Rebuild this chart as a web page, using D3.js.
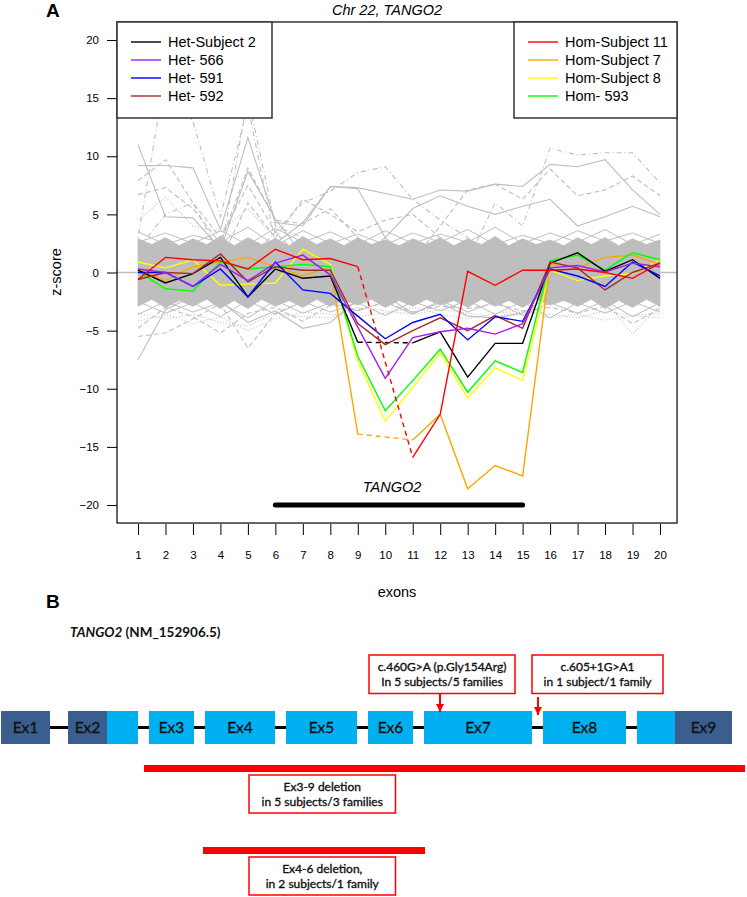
<!DOCTYPE html>
<html><head><meta charset="utf-8">
<script src="https://cdn.jsdelivr.net/npm/d3@7"></script>
<style>body{margin:0;background:#fff}svg{display:block}</style>
</head><body>
<svg id="chart" width="747" height="897"></svg>
<script>
// ---------------- DATA (panel A) ----------------
const exonNumbers = [1,2,3,4,5,6,7,8,9,10,11,12,13,14,15,16,17,18,19,20];
const yTickValues = [-20,-15,-10,-5,0,5,10,15,20];

const hetSubject2 = [0.2,-0.9,-0.1,1.3,-2.1,0.3,-0.5,-0.3,-6.0,null,-6.05,-5.1,-9.0,-6.1,-6.1,0.8,1.7,0.1,1.1,-0.5];
const het566      = [0.3,0.0,-1.2,0.7,-0.7,0.8,1.5,-0.2,-4.7,-9.1,-5.6,-5.1,-4.8,-5.3,-4.4,0.4,0.6,0.05,0.8,0.5];
const het591      = [0.0,0.0,-1.2,0.3,-2.1,0.9,-1.5,-1.8,-3.75,-5.7,-4.3,-3.6,-5.8,-3.8,-4.2,0.3,-0.3,-1.2,0.9,-0.3];
const het592      = [-0.6,0.0,-0.1,1.6,-0.8,0.5,0.2,0.2,-4.4,-6.2,-5.0,-3.9,-5.0,-3.7,-4.8,0.9,0.4,-1.5,0.0,0.8];
const homSubject11= [-0.6,1.3,1.1,1.0,0.3,2.0,1.1,1.2,0.5,null,-15.9,-12.2,0.1,-1.1,0.2,0.2,0.3,0.0,-0.5,0.8];
const homSubject7 = [0.3,-0.7,0.5,0.9,1.3,0.5,-0.3,0.5,-13.9,null,-14.4,-12.2,-18.6,-16.6,-17.5,0.7,0.4,1.3,1.5,0.7];
const homSubject8 = [0.9,0.4,1.1,-1.1,-1.0,-0.9,2.0,0.7,-7.6,-12.8,-9.9,-6.9,-10.8,-8.2,-9.3,0.2,-0.7,-0.3,-0.1,1.1];
const hom593      = [0.1,-1.4,-1.6,0.9,0.3,0.5,0.7,0.5,-7.2,-11.9,-9.3,-6.6,-10.3,-7.6,-8.6,1.0,1.5,0.2,1.7,1.1];

const seriesLabels = ["Het-Subject 2","Het- 566","Het- 591","Het- 592","Hom-Subject 11","Hom-Subject 7","Hom-Subject 8","Hom- 593"];
const seriesValues = [hetSubject2, het566, het591, het592, homSubject11, homSubject7, homSubject8, hom593];
const seriesColors = ["#000000","#A020F0","#0000FF","#A52A2A","#FF0000","#FFA500","#FFFF00","#00FF00"];
const drawOrder = [6,5,7,0,3,2,1,4];

// dense grey band of control samples (envelope)
const bandHighAtExon  = [2.9,3.0,2.9,3.1,3.0,2.9,3.1,2.9,3.0,2.8,2.9,3.0,2.9,3.1,2.9,2.8,3.0,3.0,2.9,2.8];
const bandHighBetween = [2.4,2.3,2.4,2.3,2.4,2.3,2.4,2.3,2.4,2.3,2.4,2.3,2.4,2.3,2.4,2.3,2.4,2.3,2.4];
const bandLowAtExon   = [-2.9,-3.0,-2.9,-3.1,-3.1,-2.9,-3.0,-2.9,-2.8,-3.0,-2.9,-2.8,-3.0,-2.9,-3.0,-2.8,-2.9,-3.1,-3.0,-2.9];
const bandLowBetween  = [-2.3,-2.4,-2.3,-2.4,-2.3,-2.4,-2.3,-2.4,-2.3,-2.4,-2.3,-2.4,-2.3,-2.4,-2.3,-2.4,-2.3,-2.4,-2.3];

// grey control lines hugging the band edge
const greyEdgeLines = [
  [3.5,2.4,3.2,2.6,3.9,2.3,3.6,2.5,3.3,2.4,3.4,2.6,3.7,2.4,3.2,2.5,3.6,2.7,3.4,2.5],
  [2.6,3.4,2.5,3.6,2.4,3.8,2.6,3.5,2.4,3.6,2.5,3.3,2.6,3.9,2.5,3.4,2.6,3.7,2.4,3.3],
  [-3.6,-2.5,-3.4,-2.6,-3.9,-2.4,-3.5,-2.6,-3.3,-2.5,-3.6,-2.4,-3.4,-2.5,-3.7,-2.6,-3.5,-2.4,-3.8,-2.6],
  [-2.5,-3.5,-2.6,-3.8,-2.4,-3.6,-2.5,-3.4,-2.6,-3.7,-2.5,-3.3,-2.4,-3.6,-2.5,-3.9,-2.6,-3.5,-2.5,-3.4]
];

// outlying grey control lines
const greyOutliers = [
  [11.0,4.8,4.7,2.0,8.7,4.6,1.5,1,1,1,1,1,1,1,1,1,1,1,1,1],
  [9.2,9.2,9.0,3.7,11.6,4.3,4.0,7.4,7.2,3.0,1,1,1,1,1,1,1,1,1,1],
  [3.0,17.0,13.0,4.8,14.4,2.5,1,1,1,1,1,1,1,1,1,1,1,1,1,1],
  [2.0,5.0,6.0,1.5,15.2,4.0,3.0,1,1,1,1,1,1,1,1,1,1,1,1,1],
  [7.9,9.7,6.0,3.0,7.5,3.5,1,1,1,1,1,1,1,1,1,1,1,1,1,1],
  [6.7,7.3,5.5,2.5,9.0,4.5,4.2,5.5,3.0,1,1,1,1,1,1,1,1,1,1,1],
  [1,1,1,1,1,3.5,6.0,7.0,8.6,9.1,6.3,4.5,3.0,1,1,1,1,1,1,1],
  [1,1,1,1,1,2.5,4.3,7.4,7.3,6.8,6.3,7.1,7.0,7.6,7.4,9.3,9.1,9.7,7.1,5.0],
  [1,1,1,1,1,1,1,1,1,1,1,1,1,6.0,4.0,10.7,10.1,10.3,10.3,7.7],
  [1,1,1,1,1,1,1,1,1,3.0,5.5,6.6,5.7,5.0,5.7,6.3,4.0,4.8,5.7,4.8],
  [1,1,1,1,1,1,1,1,1,1,1,4.0,7.1,7.6,6.3,8.9,6.6,7.1,8.3,6.6],
  [1,1,1,1,6.0,3.0,6.3,5.0,3.5,4.5,5.0,3.0,1,1,1,1,1,1,1,1],
  [4.5,6.5,4.0,3.5,5.5,3.0,1,1,1,1,1,1,1,1,1,1,1,1,1,1],
  [-7.5,-3.2,-2,-1,-1,-1,-1,-1,-1,-1,-1,-1,-1,-1,-1,-1,-1,-1,-1,-1],
  [-5.5,-5.2,-4.0,-2.7,-6.5,-3.5,-2.5,-1,-1,-1,-1,-1,-1,-1,-1,-1,-1,-1,-1,-1],
  [-1,-1,-1,-2.5,-4.3,-3.3,-4.8,-4.3,-2.3,-1,-1,-1,-1,-1,-1,-1,-1,-1,-1,-1],
  [-1,-1,-1,-1,-1,-1,-1,-1,-1,-1,-1,-1,-1,-1,-1,-1,-1,-2.5,-5.3,-2.8],
  [-1,-1,-1,-1,-1,-1,-1,-1,-1,-2.0,-3.5,-2.6,-3.75,-3.9,-3.5,-2.0,-1,-1,-1,-1],
  [-3.5,-4.0,-3.6,-4.3,-4.6,-3.5,-3.8,-3.9,-3.0,-3.3,-3.6,-3.2,-3.5,-3.8,-3.4,-3.6,-3.9,-3.3,-3.7,-3.9],
  [-4.2,-3.6,-4.4,-3.8,-5.0,-4.0,-3.4,-3.6,-3.8,-3.5,-3.0,-3.6,-4.0,-3.5,-3.3,-3.9,-3.6,-4.1,-3.7,-3.5],
  [-4.8,-3.0,-3.8,-5.2,-3.5,-3.0,-4.2,-2.8,-3.2,-2.6,-3.4,-2.9,-3.1,-2.7,-3.3,-3.0,-3.5,-2.9,-4.4,-3.1]
];
const greyOutlierDash = ["","","1,3,5,3","1,3,5,3","5,3","5,3","1,3,5,3","","1,3,5,3","","5,3","5,3","1,2",
                         "","5,3","","1,2","","1,2","1,2","5,3"];

const geneStart = 6, geneEnd = 15, geneLevel = -20;

// ---------------- DATA (panel B) ----------------
const geneExonLabels = ["Ex1","Ex2","Ex3","Ex4","Ex5","Ex6","Ex7","Ex8","Ex9"];
const geneExonStart  = [1,68,149,205,286,368,424,543,637];
const geneExonEnd    = [50,138,194,275,357,413,532,626,732];
const codingRange    = [107,675];
const variantText    = [["c.460G>A (p.Gly154Arg)","In 5 subjects/5 families"],["c.605+1G>A1","in 1 subject/1 family"]];
const variantSite    = [440,538];
const variantBoxSpan = [[369,515],[532,663]];
const deletionText   = [["Ex3-9 deletion","in 5 subjects/3 families"],["Ex4-6 deletion,","in 2 subjects/1 family"]];
const deletionSpan   = [[144,745],[203,425]];
const deletionBoxSpan= [[249,395.5],[249,395.5]];

// ---------------- DRAW ----------------
const svg = d3.select("#chart");
const FONT = "Liberation Sans, Arial, sans-serif";
const CAL = "Lato, 'Open Sans', sans-serif";

const x = d3.scaleLinear().domain([1,20]).range([138,660]);
const y = d3.scaleLinear().domain([-20,20]).range([505,40]);
const boxL = x(0.236), boxR = x(20.62), boxT = y(21.55), boxB = y(-21.55);

svg.append("clipPath").attr("id","plotclip").append("rect")
  .attr("x",boxL).attr("y",boxT).attr("width",boxR-boxL).attr("height",boxB-boxT);
const plot = svg.append("g").attr("clip-path","url(#plotclip)");

const lineGen = d3.line().defined(d=>d[1]!=null).x(d=>x(d[0])).y(d=>y(d[1]));
const grey = "#BEBEBE";

greyOutliers.forEach((vals,i)=>{
  plot.append("path").datum(vals.map((v,j)=>[exonNumbers[j],v]))
    .attr("d",lineGen).attr("fill","none").attr("stroke",grey).attr("stroke-width",1.1)
    .attr("stroke-dasharray",greyOutlierDash[i]||null);
});
greyEdgeLines.forEach(vals=>{
  plot.append("path").datum(vals.map((v,j)=>[exonNumbers[j],v]))
    .attr("d",lineGen).attr("fill","none").attr("stroke",grey).attr("stroke-width",1);
});

// band
const bandPts = [];
exonNumbers.forEach((e,i)=>{
  bandPts.push({e:e, hi:bandHighAtExon[i], lo:bandLowAtExon[i]});
  if(i<exonNumbers.length-1) bandPts.push({e:(e+exonNumbers[i+1])/2, hi:bandHighBetween[i], lo:bandLowBetween[i]});
});
plot.append("path").datum(bandPts)
  .attr("d", d3.area().x(d=>x(d.e)).y0(d=>y(d.lo)).y1(d=>y(d.hi)))
  .attr("fill",grey).attr("stroke",grey).attr("stroke-width",0.8);

// zero line
plot.append("line").attr("x1",boxL).attr("x2",boxR).attr("y1",y(0)).attr("y2",y(0))
  .attr("stroke",grey).attr("stroke-width",1.3);

// colored series
drawOrder.forEach(si=>{
  const vals = seriesValues[si];
  const pts = vals.map((v,j)=>[exonNumbers[j],v]);
  plot.append("path").datum(pts).attr("d",lineGen).attr("fill","none")
    .attr("stroke",seriesColors[si]).attr("stroke-width",1.4);
  for(let j=0;j<vals.length;j++){
    if(vals[j]==null){
      let a=j-1; while(a>=0 && vals[a]==null) a--;
      let b=j+1; while(b<vals.length && vals[b]==null) b++;
      if(a>=0 && b<vals.length){
        plot.append("line").attr("x1",x(exonNumbers[a])).attr("y1",y(vals[a]))
          .attr("x2",x(exonNumbers[b])).attr("y2",y(vals[b]))
          .attr("stroke",seriesColors[si]).attr("stroke-width",1.4).attr("stroke-dasharray","5,4");
      }
      j=b-1;
    }
  }
});

// gene bar
plot.append("line").attr("x1",x(geneStart)).attr("x2",x(geneEnd)).attr("y1",y(geneLevel)).attr("y2",y(geneLevel))
  .attr("stroke","#000").attr("stroke-width",5).attr("stroke-linecap","round");
svg.append("text").attr("x",(x(geneStart)+x(geneEnd))/2-7).attr("y",492)
  .attr("text-anchor","middle").attr("font-family",FONT).attr("font-style","italic").attr("font-size",14.5)
  .text("TANGO2");

// box
svg.append("rect").attr("x",boxL).attr("y",boxT).attr("width",boxR-boxL).attr("height",boxB-boxT)
  .attr("fill","none").attr("stroke","#000").attr("stroke-width",1.2);

// axes
const yAxis = svg.append("g").attr("transform",`translate(${boxL},0)`)
  .call(d3.axisLeft(y).tickValues(yTickValues).tickSize(10).tickPadding(8));
yAxis.select(".domain").remove();
yAxis.selectAll("text").attr("font-family",FONT).attr("font-size",11.5).attr("fill","#000");
yAxis.selectAll("line").attr("stroke","#000");

const xAxis = svg.append("g").attr("transform",`translate(0,${boxB+1})`)
  .call(d3.axisBottom(x).tickValues(exonNumbers).tickSize(11).tickPadding(16));
xAxis.select(".domain").remove();
xAxis.selectAll("text").attr("font-family",FONT).attr("font-size",11.5).attr("fill","#000");
xAxis.selectAll("line").attr("stroke","#000");

// labels
svg.append("text").attr("transform","translate(61,272) rotate(-90)").attr("text-anchor","middle")
  .attr("font-family",FONT).attr("font-size",14.5).text("z-score");
svg.append("text").attr("x",397).attr("y",597).attr("text-anchor","middle")
  .attr("font-family",FONT).attr("font-size",14.5).text("exons");
svg.append("text").attr("x",387).attr("y",15).attr("text-anchor","middle")
  .attr("font-family",FONT).attr("font-style","italic").attr("font-size",14.5).text("Chr 22, TANGO2");
svg.append("text").attr("x",46).attr("y",17).attr("font-family",FONT).attr("font-weight","bold")
  .attr("font-size",19).text("A");

// legends
function legend(x0,x1,idx,lineX0){
  svg.append("rect").attr("x",x0).attr("y",boxT).attr("width",x1-x0).attr("height",118-boxT)
    .attr("fill","#fff").attr("stroke","#333").attr("stroke-width",1.5);
  idx.forEach((si,k)=>{
    const cy = 42 + k*18;
    svg.append("line").attr("x1",lineX0).attr("x2",lineX0+30).attr("y1",cy).attr("y2",cy)
      .attr("stroke",seriesColors[si]).attr("stroke-width",1.4);
    svg.append("text").attr("x",lineX0+37).attr("y",cy+5).attr("font-family",FONT).attr("font-size",14.5)
      .text(seriesLabels[si]);
  });
}
legend(boxL,272,[0,1,2,3],131);
legend(514,boxR,[4,5,6,7],528);

// ---------------- PANEL B ----------------
const gx = d3.scaleLinear().domain([0,747]).range([0,747]);
function heavy(sel,col){ return sel.attr("fill",col).attr("stroke",col).attr("stroke-width",0.35); }
svg.append("text").attr("x",46).attr("y",608).attr("font-family",FONT).attr("font-weight","bold")
  .attr("font-size",19).text("B");
const tt = svg.append("text").attr("x",70).attr("y",637).attr("font-family",CAL).attr("font-weight","bold")
  .attr("font-size",13.5).attr("fill","#111");
tt.append("tspan").attr("font-style","italic").text("TANGO2");
tt.append("tspan").text(" (NM_152906.5)");

const exTop = 711, exH = 33, exMid = exTop+exH/2;
svg.append("line").attr("x1",gx(geneExonEnd[0])).attr("x2",gx(geneExonStart[8])).attr("y1",exMid).attr("y2",exMid)
  .attr("stroke","#000").attr("stroke-width",3);
geneExonLabels.forEach((lab,i)=>{
  const s=geneExonStart[i], e=geneExonEnd[i];
  svg.append("rect").attr("x",gx(s)).attr("y",exTop).attr("width",gx(e)-gx(s)).attr("height",exH).attr("fill","#00B0F0");
  if(s<codingRange[0]) svg.append("rect").attr("x",gx(s)).attr("y",exTop).attr("width",gx(Math.min(e,codingRange[0]))-gx(s)).attr("height",exH).attr("fill","#3A5F8E");
  if(e>codingRange[1]) svg.append("rect").attr("x",gx(Math.max(s,codingRange[1]))).attr("y",exTop).attr("width",gx(e)-gx(Math.max(s,codingRange[1]))).attr("height",exH).attr("fill","#3A5F8E");
  let cx;
  if(s<codingRange[0]) cx=(s+Math.min(e,codingRange[0]))/2;
  else if(e>codingRange[1]) cx=(Math.max(s,codingRange[1])+e)/2;
  else cx=(s+e)/2;
  heavy(svg.append("text").attr("x",gx(cx)).attr("y",exMid+5.5).attr("text-anchor","middle")
    .attr("font-family",CAL).attr("font-size",15.5),"#111").text(lab);
});

function callout(x0,x1,y0,y1,lines){
  svg.append("rect").attr("x",x0).attr("y",y0).attr("width",x1-x0).attr("height",y1-y0)
    .attr("fill","#fff").attr("stroke","#FF0000").attr("stroke-width",1.5);
  lines.forEach((t,k)=>{
    heavy(svg.append("text").attr("x",(x0+x1)/2).attr("y",y0+16+k*15).attr("text-anchor","middle")
      .attr("font-family",CAL).attr("font-size",12),"#111").text(t);
  });
}
svg.append("defs").append("marker").attr("id","arr").attr("viewBox","0 0 10 10").attr("refX",10).attr("refY",5)
  .attr("markerWidth",4).attr("markerHeight",4).attr("orient","auto")
  .append("path").attr("d","M0,0L10,5L0,10z").attr("fill","#FF0000");
variantText.forEach((lines,i)=>{
  callout(gx(variantBoxSpan[i][0]),gx(variantBoxSpan[i][1]),655,693.5,lines);
  svg.append("line").attr("x1",gx(variantSite[i])).attr("x2",gx(variantSite[i])).attr("y1",i?697:693.5).attr("y2",i?715:712)
    .attr("stroke","#FF0000").attr("stroke-width",2).attr("marker-end","url(#arr)");
});
const delY = [768.5,850.5];
deletionText.forEach((lines,i)=>{
  svg.append("line").attr("x1",gx(deletionSpan[i][0])).attr("x2",gx(deletionSpan[i][1])).attr("y1",delY[i]).attr("y2",delY[i])
    .attr("stroke","#FF0000").attr("stroke-width",7);
  callout(gx(deletionBoxSpan[i][0]),gx(deletionBoxSpan[i][1]),delY[i]+6.5,delY[i]+44.5,lines);
});
</script>
</body></html>
